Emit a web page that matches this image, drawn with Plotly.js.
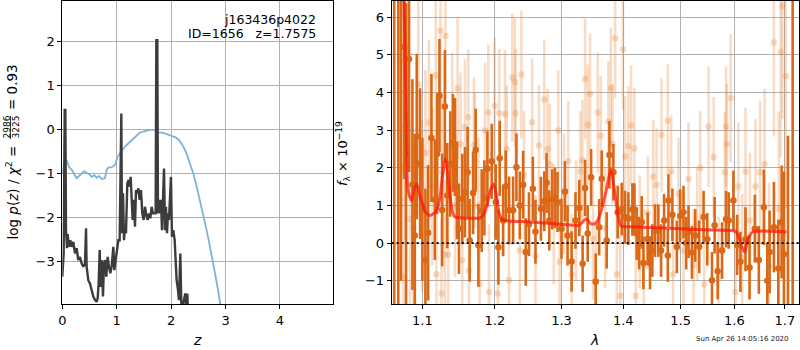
<!DOCTYPE html>
<html>
<head>
<meta charset="utf-8">
<script src="https://cdn.plot.ly/plotly-3.0.1.min.js"></script>
<style>html,body{margin:0;padding:0;background:#fff}#chart{width:800px;height:350px}</style>
</head>
<body>
<div id="chart"></div>
<script>
// ---------- Left panel: redshift probability ----------
const zPz = [0.0,0.025,0.044,0.056,0.068,0.086,0.098,0.123,0.147,0.172,0.202,0.233,0.264,0.294,0.325,0.356,0.386,0.417,0.436,0.447,0.478,0.508,0.539,0.57,0.601,0.631,0.65,0.668,0.687,0.705,0.723,0.748,0.766,0.784,0.809,0.833,0.858,0.882,0.907,0.938,0.956,0.98,1.005,1.03,1.054,1.073,1.085,1.097,1.116,1.134,1.152,1.17,1.195,1.22,1.238,1.256,1.274,1.293,1.311,1.336,1.354,1.378,1.397,1.421,1.446,1.47,1.495,1.519,1.544,1.568,1.593,1.617,1.642,1.666,1.691,1.715,1.728,1.746,1.758,1.777,1.795,1.813,1.832,1.85,1.869,1.887,1.905,1.924,1.942,1.96,1.979,1.997,2.015,2.04,2.065,2.083,2.101,2.126,2.144,2.169,2.187,2.211,2.242,2.26,2.279,2.297,2.309];
const logPz = [-3.35,-2.82,0.44,0.44,-2.29,-2.7,-2.38,-2.67,-2.52,-2.67,-2.56,-2.82,-2.7,-2.97,-2.9,-3.05,-3.12,-3.05,-2.25,-3.12,-3.43,-3.5,-3.65,-3.8,-3.88,-3.92,-3.84,-3.5,-2.74,-3.58,-2.97,-3.8,-3.05,-2.97,-3.35,-2.9,-3.12,-3.27,-3.12,-2.67,-3.2,-2.97,-2.82,-2.52,-2.52,0.36,0.36,-2.36,-1.45,-2.52,-2.21,-2.36,-1.23,-1.15,-1.3,-1.08,-1.68,-2.06,-1.6,-2.21,-1.38,-1.45,-1.34,-1.6,-1.38,-1.91,-2.06,-1.76,-1.95,-2.06,-1.91,-2.02,-1.76,-1.91,-1.91,-1.91,2.03,2.03,-1.91,-1.6,-1.91,-1.6,-2.29,-1.3,-0.89,-2.29,-1.76,-2.36,-1.91,-2.06,-1.3,-1.08,-2.44,-2.29,-2.52,-2.97,-3.43,-3.65,-3.88,-2.82,-3.96,-4.03,-3.88,-3.73,-4.03,-3.73,-4.1];
const zChi = [0.0,0.037,0.08,0.123,0.172,0.221,0.264,0.307,0.356,0.405,0.447,0.496,0.539,0.588,0.631,0.674,0.723,0.784,0.815,0.846,0.907,0.968,1.017,1.078,1.152,1.244,1.336,1.428,1.519,1.611,1.703,1.765,1.856,1.948,2.009,2.083,2.144,2.224,2.285,2.346,2.407,2.469,2.53,2.591,2.652,2.714,2.775,2.836,2.897,2.959];
const chiNorm = [-1.0,-0.77,-0.70,-0.85,-0.92,-1.04,-1.11,-1.06,-1.0,-0.95,-0.99,-1.02,-1.08,-1.04,-1.1,-1.06,-1.13,-1.11,-0.92,-0.87,-0.86,-0.81,-0.62,-0.51,-0.39,-0.28,-0.18,-0.07,-0.04,-0.01,-0.01,-0.07,-0.08,-0.12,-0.16,-0.18,-0.24,-0.39,-0.55,-0.77,-1.0,-1.3,-1.61,-1.91,-2.29,-2.67,-3.05,-3.47,-3.92,-4.37];
const zTicks = [0,1,2,3,4];
const pzTicks = [-3,-2,-1,0,1,2];

// ---------- Right panel: spectrum ----------
const lamDark = [1.0634,1.0686,1.0720,1.0762,1.0786,1.0825,1.0869,1.0900,1.0926,1.0970,1.1000,1.1040,1.1076,1.1120,1.1166,1.1197,1.1228,1.1264,1.1301,1.1333,1.1374,1.1411,1.1439,1.1466,1.1494,1.1540,1.1577,1.1614,1.1642,1.1690,1.1727,1.1765,1.1812,1.1850,1.1893,1.1955,1.2012,1.2051,1.2070,1.2120,1.2157,1.2207,1.2266,1.2315,1.2365,1.2415,1.2454,1.2502,1.2560,1.2600,1.2683,1.2734,1.2769,1.2810,1.2856,1.2898,1.2938,1.3000,1.3054,1.3095,1.3159,1.3220,1.3281,1.3334,1.3373,1.3415,1.3470,1.3545,1.3601,1.3643,1.3725,1.3770,1.3836,1.3907,1.3975,1.4031,1.4087,1.4155,1.4189,1.4228,1.4270,1.4314,1.4343,1.4417,1.4458,1.4498,1.4545,1.4603,1.4651,1.4704,1.4770,1.4781,1.4852,1.4931,1.4991,1.5051,1.5100,1.5142,1.5204,1.5264,1.5338,1.5418,1.5487,1.5575,1.5624,1.5681,1.5764,1.5840,1.5890,1.5980,1.6052,1.6116,1.6214,1.6293,1.6397,1.6476,1.6576,1.6644,1.6690,1.6777,1.6866,1.6933,1.6980,1.7062,1.7159];
const fluxDark = [9.0,9.0,7.0,5.2,2.37,4.89,1.55,0.2,2.83,2.11,0.9,-0.46,0.27,2.79,1.15,2.37,3.92,0.88,3.63,1.26,2.1,2.66,2.55,1.4,0.38,1.17,1.35,1.88,0.07,1.33,2.47,-0.06,0.86,1.2,1.97,2.17,1.09,-0.11,2.25,0.6,1.51,0.87,0.87,2.01,1.0,1.55,-0.24,0.5,1.44,0.3,0.91,1.11,1.6,0.6,1.16,1.2,1.09,0.38,1.37,0.2,-0.49,0.6,0.93,-0.55,1.46,0.25,1.75,-1.03,0.42,1.71,0.07,2.34,1.88,0.82,0.9,0.69,0.65,0.89,0.89,0.25,0.0,0.55,-0.53,0.11,-0.53,-0.2,0.33,0.33,-0.2,0.6,-0.33,1.13,0.75,-0.1,0.72,0.82,0.0,0.3,-0.25,0.2,-0.1,0.69,0.1,-0.99,0.47,-0.75,-0.2,0.63,0.6,1.13,-0.05,-0.5,0.1,-0.65,0.38,-0.45,0.95,-1.0,-0.24,0.42,-0.68,0.56,-0.3,-2.0,9.0];
const errDark = [12,12,8,3.5,4.0,3.0,2.8,2.6,2.2,2.0,1.9,1.9,1.8,1.7,1.6,1.6,1.5,1.5,1.5,1.4,1.4,1.3,1.3,1.3,1.2,1.2,1.2,1.2,1.1,1.1,1.1,1.1,1.1,1.0,1.0,1.0,1.0,1.0,1.0,0.95,0.95,0.9,0.9,0.9,0.9,0.9,0.9,0.85,0.85,0.85,0.85,0.8,0.8,0.8,0.8,0.8,0.8,0.8,0.8,0.8,0.8,0.75,0.75,0.75,0.75,0.75,0.75,0.75,0.75,0.75,0.75,0.9,0.75,0.7,0.7,0.7,0.7,0.7,0.7,0.7,0.7,0.7,0.7,0.7,0.7,0.7,0.7,0.7,0.7,0.7,0.7,0.7,0.7,0.7,0.7,0.7,0.7,0.7,0.7,0.7,0.7,0.7,0.7,0.75,0.75,0.75,0.75,0.75,0.75,0.8,0.8,0.8,0.85,0.85,0.9,0.9,1.0,1.0,1.1,1.2,1.3,1.5,2.2,4.85,12];

const lamLight = [1.0735,1.0749,1.0777,1.0797,1.0839,1.0882,1.0947,1.0996,1.1040,1.1085,1.1130,1.1178,1.1187,1.1241,1.1255,1.1264,1.1301,1.1309,1.1346,1.1402,1.1440,1.1475,1.1516,1.1540,1.1577,1.1623,1.1632,1.1702,1.1716,1.1765,1.1783,1.1859,1.1906,1.1916,1.1998,1.2044,1.2063,1.2148,1.2172,1.2205,1.2254,1.2292,1.2302,1.2364,1.2389,1.2428,1.2549,1.2599,1.2652,1.2734,1.2785,1.2821,1.2880,1.2949,1.2970,1.3040,1.3106,1.3159,1.3230,1.3298,1.3330,1.3373,1.3415,1.3454,1.3500,1.3545,1.3578,1.3627,1.3700,1.3753,1.3792,1.3820,1.3865,1.3892,1.3950,1.3995,1.4031,1.4087,1.4133,1.4189,1.4212,1.4280,1.4350,1.4420,1.4515,1.4572,1.4659,1.4770,1.4829,1.4865,1.4961,1.5050,1.5142,1.5233,1.5300,1.5357,1.5430,1.5511,1.5606,1.5700,1.5817,1.5840,1.5855,1.5929,1.6019,1.6076,1.6150,1.6214,1.6300,1.6410,1.6503,1.6590,1.6680,1.6777,1.6876,1.6913,1.6947,1.7015];
const fluxLight = [4.84,-0.9,3.12,5.24,0.64,0.4,4.22,0.99,2.4,3.2,1.5,4.46,-0.83,5.64,-1.34,1.88,-0.31,5.5,-0.31,3.16,1.0,4.11,2.63,-0.46,3.08,3.34,-0.73,2.6,2.2,1.0,-1.08,2.99,3.47,-1.3,3.65,-1.34,3.45,3.43,2.5,-0.99,4.4,4.27,3.45,-0.2,4.48,1.8,3.21,-0.33,2.59,3.81,2.5,2.1,0.5,2.99,-0.5,1.3,2.17,-0.83,0.6,1.9,2.2,4.36,3.14,3.96,0.1,-1.0,3.47,2.85,0.4,3.23,4.11,2.63,5.44,-0.83,-1.4,5.15,2.3,2.57,3.12,2.51,-1.4,0.3,-0.6,0.8,1.77,1.54,2.87,3.25,1.9,-0.83,1.3,-0.2,1.7,-0.6,0.5,2.0,-1.1,3.09,2.28,-0.9,1.88,3.09,2.63,3.85,-1.3,1.5,-0.4,1.9,0.6,1.5,1.88,2.1,-0.6,5.33,0.9,5.07,6.29,4.43];
const errLight = [3.0,3.0,3.0,2.8,2.6,2.5,2.4,2.3,2.2,2.2,2.1,2.1,2.0,2.1,2.0,2.0,2.0,2.0,2.0,1.9,1.9,1.9,1.9,1.9,1.8,1.8,1.8,1.8,1.8,1.8,1.8,1.8,1.8,1.8,1.8,1.7,1.7,1.7,1.7,1.7,1.7,1.7,1.7,1.7,1.7,1.7,1.7,1.6,1.6,1.6,1.6,1.6,1.6,1.6,1.6,1.6,1.6,1.6,1.6,1.6,1.6,1.6,1.6,1.6,1.6,1.6,1.6,1.6,1.6,1.6,1.6,1.6,1.6,1.6,1.6,1.6,1.6,1.6,1.6,1.6,1.6,1.5,1.5,1.5,1.5,1.5,1.5,1.5,1.5,1.5,1.5,1.5,1.5,1.5,1.5,1.5,1.5,1.6,1.6,1.6,1.6,1.6,1.6,1.7,1.7,1.7,1.7,1.7,1.8,1.8,1.9,2.0,2.2,2.5,2.6,2.8,3.0,3.5];

const lamModel = [1.0740,1.0760,1.0786,1.0803,1.0830,1.0860,1.0895,1.0926,1.0960,1.0992,1.1050,1.1103,1.1170,1.1205,1.1238,1.1270,1.1306,1.1340,1.1375,1.1410,1.1443,1.1600,1.1792,1.1850,1.1888,1.1935,1.1985,1.2020,1.2057,1.2095,1.2130,1.2526,1.3039,1.3276,1.3330,1.3383,1.3430,1.3465,1.3546,1.3628,1.3711,1.3795,1.3850,1.3905,1.3961,1.4130,1.4707,1.5310,1.5938,1.6034,1.6090,1.6131,1.6197,1.6235,1.6262,1.6361,1.7029];
const fluxModel = [9.0,6.5,3.83,1.62,1.25,1.13,1.45,1.57,1.3,1.09,0.8,0.73,0.82,0.95,1.26,1.8,2.24,1.85,1.18,0.8,0.69,0.66,0.67,0.8,1.0,1.4,1.57,1.3,0.82,0.65,0.60,0.56,0.49,0.47,0.55,0.64,0.58,0.51,0.52,0.82,1.35,1.97,1.44,0.82,0.45,0.43,0.40,0.36,0.33,0.29,0.15,-0.06,-0.24,-0.05,0.12,0.30,0.29];
const lamTicks = [1.1,1.2,1.3,1.4,1.5,1.6,1.7];
const lamTickText = ['1.1','1.2','1.3','1.4','1.5','1.6','1.7'];
const fluxTicks = [-1,0,1,2,3,4,5,6];

const FONT = 'DejaVu Sans, Liberation Sans, sans-serif';
const darkOrange = 'rgb(219,104,22)';
const lightOrange = 'rgba(232,128,50,0.28)';

const traces = [
  {x: zChi, y: chiNorm, xaxis:'x', yaxis:'y', mode:'lines', line:{color:'rgb(128,178,214)', width:1.8}, hoverinfo:'skip'},
  {x: zPz, y: logPz, xaxis:'x', yaxis:'y', mode:'lines', line:{color:'#3c3c3c', width:2.4}, hoverinfo:'skip'},
  {x: lamLight, y: fluxLight, xaxis:'x2', yaxis:'y2', mode:'markers',
   marker:{color:lightOrange, size:6.5},
   error_y:{type:'data', array: errLight, visible:true, color:lightOrange, thickness:2.6, width:0}},
  {x: lamDark, y: fluxDark, xaxis:'x2', yaxis:'y2', mode:'markers',
   marker:{color:darkOrange, size:6.5},
   error_y:{type:'data', array: errDark, visible:true, color:darkOrange, thickness:2.6, width:0}},
  {x: lamModel, y: fluxModel, xaxis:'x2', yaxis:'y2', mode:'lines', line:{color:'rgba(255,20,10,0.72)', width:3, shape:'spline', smoothing:0.5}}
];

const axBase = {
  showline:true, linecolor:'#000', linewidth:1, mirror:true,
  ticks:'outside', ticklen:4, tickwidth:1, tickcolor:'#000',
  showgrid:true, gridcolor:'#b0b0b0', gridwidth:1, zeroline:false,
  tickfont:{family:FONT, size:13, color:'#000'}
};

function px(x){return x/800;}
function py(y){return (304-y)/303;}

const layout = {
  width:800, height:350,
  margin:{l:0, r:0, t:1, b:46},
  paper_bgcolor:'#fff', plot_bgcolor:'#fff',
  showlegend:false,
  font:{family:FONT, color:'#000'},
  xaxis: Object.assign({}, axBase, {domain:[62.3/800, 333.3/800], range:[0, 4.98], tickvals: zTicks, anchor:'y'}),
  yaxis: Object.assign({}, axBase, {domain:[0,1], range:[-3.97, 2.92], tickvals: pzTicks, anchor:'x'}),
  xaxis2: Object.assign({}, axBase, {domain:[391.7/800, 799/800], type:'log', range:[Math.log10(1.0602), Math.log10(1.729)], tickvals: lamTicks, ticktext: lamTickText, anchor:'y2'}),
  yaxis2: Object.assign({}, axBase, {domain:[0,1], range:[-1.62, 6.43], tickvals: fluxTicks, anchor:'x2'}),
  shapes:[
    {type:'line', xref:'x2 domain', yref:'y2', x0:0, x1:1, y0:0, y1:0, layer:'above', line:{color:'#111', width:2, dash:'2px,3px'}},
    {type:'line', xref:'paper', yref:'paper', x0:px(10.5), x1:px(10.5), y0:py(139), y1:py(116), line:{color:'#000', width:0.8}}
  ],
  annotations:[
    {xref:'paper', yref:'paper', x:px(12), y:py(192.5), text:'log <i>p</i>(<i>z</i>) / <i>χ</i><sup>2</sup> =', textangle:-90, showarrow:false, xanchor:'center', yanchor:'middle', font:{family:FONT, size:13.5}},
    {xref:'paper', yref:'paper', x:px(6), y:py(127.5), text:'2986', textangle:-90, showarrow:false, xanchor:'center', yanchor:'middle', font:{family:FONT, size:9}},
    {xref:'paper', yref:'paper', x:px(15), y:py(127.5), text:'3225', textangle:-90, showarrow:false, xanchor:'center', yanchor:'middle', font:{family:FONT, size:9}},
    {xref:'paper', yref:'paper', x:px(12), y:py(87), text:'= 0.93', textangle:-90, showarrow:false, xanchor:'center', yanchor:'middle', font:{family:FONT, size:13.5}},
    {xref:'paper', yref:'paper', x:px(318), y:py(19), text:'j163436p4022', showarrow:false, xanchor:'right', yanchor:'middle', font:{family:FONT, size:12.5}},
    {xref:'paper', yref:'paper', x:px(318), y:py(34), text:'ID=1656\u00a0\u00a0\u00a0z=1.7575', showarrow:false, xanchor:'right', yanchor:'middle', font:{family:FONT, size:12.5}},
    {xref:'paper', yref:'paper', x:px(197), y:py(340), text:'<i>z</i>', showarrow:false, xanchor:'center', yanchor:'middle', font:{family:FONT, size:14}},
    {xref:'paper', yref:'paper', x:px(594), y:py(340), text:'<i>λ</i>', showarrow:false, xanchor:'center', yanchor:'middle', font:{family:FONT, size:14}},
    {xref:'paper', yref:'paper', x:px(343), y:py(154), text:'<i>f</i><sub>λ</sub> × 10<sup>−19</sup>', textangle:-90, showarrow:false, xanchor:'center', yanchor:'middle', font:{family:FONT, size:13}},
    {xref:'paper', yref:'paper', x:px(742), y:py(339), text:'Sun Apr 26 14:05:16 2020', showarrow:false, xanchor:'center', yanchor:'middle', font:{family:FONT, size:7, color:'#222'}}
  ]
};

Plotly.newPlot('chart', traces, layout, {displayModeBar:false, staticPlot:true});
</script>
</body>
</html>
